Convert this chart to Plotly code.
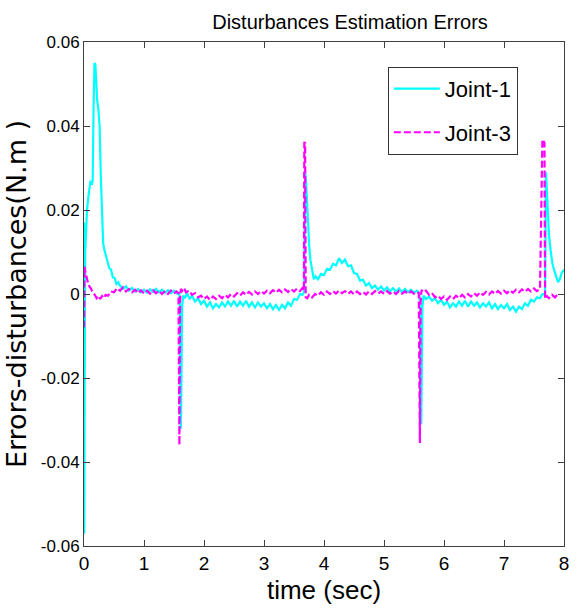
import plotly.graph_objects as go

# ---------------- data ----------------
t_joint1 = [0.0, 0.004, 0.010, 0.020, 0.050, 0.080, 0.110, 0.130, 0.145, 0.160, 0.175, 0.190,
            0.205, 0.220, 0.240, 0.260, 0.280, 0.300, 0.320, 0.340, 0.360, 0.390, 0.420, 0.450,
            0.480, 0.510, 0.540, 0.570, 0.60, 0.65, 0.70, 0.75, 0.80, 0.85, 0.90, 0.95, 1.00,
            1.05, 1.10, 1.15, 1.20, 1.25, 1.30, 1.35, 1.40, 1.45, 1.50, 1.55, 1.590, 1.602, 1.615,
            1.625, 1.635, 1.655, 1.68, 1.72, 1.76, 1.80, 1.85, 1.90, 1.95, 2.00, 2.05, 2.10, 2.15, 2.20,
            2.25, 2.30, 2.35, 2.40, 2.45, 2.50, 2.55, 2.60, 2.65, 2.70, 2.75, 2.80, 2.85, 2.90,
            2.95, 3.00, 3.05, 3.10, 3.15, 3.20, 3.25, 3.30, 3.35, 3.40, 3.45, 3.50, 3.55, 3.60,
            3.64, 3.670, 3.685, 3.700, 3.715, 3.735, 3.755, 3.775, 3.80, 3.83, 3.86, 3.90, 3.95, 4.00,
            4.05, 4.10, 4.15, 4.20, 4.25, 4.30, 4.35, 4.40, 4.45, 4.50, 4.55, 4.60, 4.65, 4.70,
            4.75, 4.80, 4.85, 4.90, 4.95, 5.00, 5.05, 5.10, 5.15, 5.20, 5.25, 5.30, 5.35, 5.40,
            5.45, 5.50, 5.55, 5.590, 5.606, 5.620, 5.630, 5.640, 5.66, 5.70, 5.75, 5.80, 5.85,
            5.90, 5.95, 6.00, 6.05, 6.10, 6.15, 6.20, 6.25, 6.30, 6.35, 6.40, 6.45, 6.50, 6.55,
            6.60, 6.65, 6.70, 6.75, 6.80, 6.85, 6.90, 6.95, 7.00, 7.05, 7.10, 7.15, 7.20, 7.25,
            7.30, 7.35, 7.40, 7.45, 7.50, 7.55, 7.60, 7.64, 7.685, 7.700, 7.712, 7.73, 7.75,
            7.78, 7.81, 7.84, 7.87, 7.90, 7.93, 7.96, 8.00]
v_joint1 = [0.0170, -0.0570, -0.0250, 0.0100, 0.0200, 0.0240, 0.0270, 0.0260, 0.0270, 0.0450,
            0.0550, 0.0545, 0.0500, 0.0460, 0.0440, 0.0400, 0.0280, 0.0180, 0.0120, 0.0105,
            0.0095, 0.0080, 0.0062, 0.0058, 0.0040, 0.0038, 0.0024, 0.0028, 0.0020, 0.0012,
            0.0018, 0.0008, 0.0014, 0.0006, 0.0012, 0.0004, 0.0010, 0.0003, 0.0011, 0.0005,
            0.0012, 0.0004, 0.0010, 0.0003, 0.0009, 0.0002, 0.0008, 0.0001, 0.0003, -0.0040,
            -0.0320, -0.0180, -0.0030, -0.0004, -0.0010, 0.0002, -0.0012, -0.0004, -0.0018,
            -0.0010, -0.0024, -0.0016, -0.0030, -0.0020, -0.0034, -0.0024, -0.0032, -0.0020,
            -0.0030, -0.0018, -0.0028, -0.0016, -0.0030, -0.0018, -0.0028, -0.0016, -0.0030,
            -0.0020, -0.0032, -0.0020, -0.0030, -0.0022, -0.0034, -0.0024, -0.0036, -0.0026,
            -0.0038, -0.0026, -0.0034, -0.0020, -0.0028, -0.0012, -0.0014, 0.0000, -0.0002,
            0.0005, 0.0290, 0.0270, 0.0220, 0.0160, 0.0110, 0.0080, 0.0055, 0.0035, 0.0042,
            0.0035, 0.0048, 0.0045, 0.0060, 0.0058, 0.0072, 0.0068, 0.0085, 0.0074, 0.0082,
            0.0066, 0.0068, 0.0050, 0.0048, 0.0032, 0.0034, 0.0020, 0.0026, 0.0014, 0.0020,
            0.0010, 0.0018, 0.0008, 0.0016, 0.0006, 0.0014, 0.0005, 0.0013, 0.0004, 0.0012,
            0.0004, 0.0010, 0.0003, 0.0008, 0.0002, -0.0040, -0.0310, -0.0170, -0.0030,
            -0.0004, -0.0012, -0.0006, -0.0016, -0.0010, -0.0022, -0.0014, -0.0026, -0.0018,
            -0.0032, -0.0022, -0.0030, -0.0018, -0.0028, -0.0016, -0.0030, -0.0018, -0.0028,
            -0.0020, -0.0032, -0.0022, -0.0030, -0.0020, -0.0034, -0.0024, -0.0036, -0.0026,
            -0.0034, -0.0024, -0.0038, -0.0030, -0.0042, -0.0030, -0.0036, -0.0022, -0.0028,
            -0.0014, -0.0018, -0.0008, -0.0010, 0.0000, -0.0002, 0.0290, 0.0250, 0.0190,
            0.0140, 0.0100, 0.0070, 0.0055, 0.0040, 0.0028, 0.0035, 0.0050, 0.0058]

t_joint3 = [0.0, 0.008, 0.02, 0.04, 0.06, 0.09, 0.12, 0.15, 0.18, 0.21, 0.24, 0.27, 0.30, 0.33,
            0.36, 0.40, 0.45, 0.50, 0.55, 0.60, 0.65, 0.70, 0.75, 0.80, 0.85, 0.90, 0.95, 1.00,
            1.05, 1.10, 1.15, 1.20, 1.25, 1.30, 1.35, 1.40, 1.45, 1.50, 1.54, 1.575, 1.590,
            1.600, 1.615, 1.64, 1.67, 1.70, 1.75, 1.80, 1.85, 1.90, 1.95, 2.00, 2.05, 2.10, 2.15,
            2.20, 2.25, 2.30, 2.35, 2.40, 2.45, 2.50, 2.55, 2.60, 2.65, 2.70, 2.75, 2.80, 2.85,
            2.90, 2.95, 3.00, 3.05, 3.10, 3.15, 3.20, 3.25, 3.30, 3.35, 3.40, 3.45, 3.50, 3.55,
            3.60, 3.64, 3.665, 3.672, 3.685, 3.695, 3.72, 3.75, 3.80, 3.85, 3.90, 3.95, 4.00,
            4.05, 4.10, 4.15, 4.20, 4.25, 4.30, 4.35, 4.40, 4.45, 4.50, 4.55, 4.60, 4.65, 4.70,
            4.75, 4.80, 4.85, 4.90, 4.95, 5.00, 5.05, 5.10, 5.15, 5.20, 5.25, 5.30, 5.35, 5.40,
            5.45, 5.50, 5.55, 5.58, 5.598, 5.610, 5.625, 5.65, 5.70, 5.75, 5.80, 5.85, 5.90, 5.95,
            6.00, 6.05, 6.10, 6.15, 6.20, 6.25, 6.30, 6.35, 6.40, 6.45, 6.50, 6.55, 6.60, 6.65,
            6.70, 6.75, 6.80, 6.85, 6.90, 6.95, 7.00, 7.05, 7.10, 7.15, 7.20, 7.25, 7.30, 7.35,
            7.40, 7.45, 7.50, 7.55, 7.60, 7.64, 7.675, 7.685, 7.698, 7.71, 7.75, 7.80, 7.85,
            7.90, 7.95, 8.00]
v_joint3 = [-0.0080, 0.0065, 0.0055, 0.0040, 0.0030, 0.0018, 0.0012, 0.0002, -0.0002, -0.0010,
            -0.0004, -0.0012, -0.0005, -0.0010, -0.0002, -0.0004, 0.0006, 0.0004, 0.0014,
            0.0008, 0.0016, 0.0006, 0.0012, 0.0004, 0.0010, 0.0002, 0.0009, 0.0001, 0.0008,
            0.0001, 0.0009, 0.0002, 0.0008, 0.0000, 0.0007, 0.0000, 0.0008, 0.0001, 0.0006,
            0.0002, -0.0360, -0.0020, 0.0012, 0.0008, 0.0014, 0.0004, 0.0008, -0.0002, 0.0002,
            -0.0008, -0.0004, -0.0012, -0.0006, -0.0014, -0.0006, -0.0012, -0.0004, -0.0010,
            -0.0002, -0.0008, 0.0000, -0.0006, 0.0002, -0.0004, 0.0004, -0.0002, 0.0005,
            -0.0001, 0.0006, 0.0000, 0.0007, 0.0001, 0.0008, 0.0002, 0.0009, 0.0003, 0.0010,
            0.0004, 0.0011, 0.0005, 0.0012, 0.0006, 0.0013, 0.0007, 0.0014, 0.0008, 0.0360,
            0.0360, -0.0008, -0.0010, -0.0002, -0.0008, 0.0000, -0.0004, 0.0004, -0.0002,
            0.0006, 0.0000, 0.0007, 0.0001, 0.0008, 0.0002, 0.0007, 0.0000, 0.0006, -0.0001,
            0.0006, 0.0000, 0.0005, -0.0001, 0.0006, 0.0000, 0.0007, 0.0001, 0.0006, 0.0000,
            0.0007, 0.0001, 0.0006, 0.0000, 0.0007, 0.0001, 0.0006, 0.0000, 0.0006, 0.0001,
            0.0005, 0.0002, -0.0355, -0.0020, 0.0010, 0.0004, 0.0008, -0.0002, 0.0002, -0.0008,
            -0.0004, -0.0012, -0.0006, -0.0014, -0.0006, -0.0012, -0.0004, -0.0010, -0.0002,
            -0.0008, 0.0000, -0.0006, 0.0002, -0.0004, 0.0004, -0.0002, 0.0005, -0.0001,
            0.0006, 0.0000, 0.0007, 0.0001, 0.0008, 0.0002, 0.0009, 0.0003, 0.0010, 0.0004,
            0.0011, 0.0005, 0.0012, 0.0006, 0.0013, 0.0007, 0.0012, 0.0368, 0.0360, -0.0008,
            -0.0012, -0.0004, -0.0010, -0.0002, -0.0008, 0.0000]

x_ticks = [0, 1, 2, 3, 4, 5, 6, 7, 8]
y_ticks = [-0.06, -0.04, -0.02, 0, 0.02, 0.04, 0.06]
y_tick_labels = ["-0.06", "-0.04", "-0.02", "0", "0.02", "0.04", "0.06"]

NARROW = "Liberation Sans Narrow, Arial Narrow, Liberation Sans, Arial, sans-serif"
AXIS_COLOR = "#404040"

fig = go.Figure()
fig.add_trace(go.Scatter(
    x=t_joint1, y=v_joint1, mode="lines", name="Joint-1", legendgroup="j1",
    line=dict(color="#00FFFF", width=2.2)))
fig.add_trace(go.Scatter(
    x=t_joint3, y=v_joint3, mode="lines", name="Joint-3", legendgroup="j3",
    line=dict(color="#FF00FF", width=2.2, dash="7px,3px")))

fig.update_layout(
    width=581, height=612,
    margin=dict(l=84, r=12, t=42, b=63),
    paper_bgcolor="white", plot_bgcolor="white",
    title=dict(text="Disturbances Estimation Errors", x=322 / 581, xref="paper",
               xanchor="center", y=1 - 22 / 612, yanchor="middle",
               font=dict(family=NARROW, size=20, color="black")),
    showlegend=True,
    legend=dict(x=(391 - 84) / 485, y=(549 - 67) / 507, xanchor="left", yanchor="top",
                bordercolor="#333333", borderwidth=1, bgcolor="white",
                font=dict(family=NARROW, size=22, color="black"),
                itemwidth=46, traceorder="grouped", tracegroupgap=12),
)
fig.update_xaxes(
    range=[0, 8], tickvals=x_ticks, ticks="inside", ticklen=6, tickcolor=AXIS_COLOR,
    showline=True, linecolor=AXIS_COLOR, linewidth=1, mirror="ticks", showgrid=False,
    zeroline=False, tickfont=dict(family=NARROW, size=19, color="black"),
    title=dict(text="time (sec)", font=dict(family=NARROW, size=26, color="black"),
               standoff=8),
)
fig.update_yaxes(
    range=[-0.06, 0.06], tickvals=y_ticks, ticktext=y_tick_labels, ticks="inside",
    ticklen=6, tickcolor=AXIS_COLOR, showline=True, linecolor=AXIS_COLOR, linewidth=1,
    mirror="ticks", showgrid=False, zeroline=False,
    tickfont=dict(family=NARROW, size=17, color="black"),
    title=dict(text="Errors-disturbances(N.m )",
               font=dict(family="DejaVu Sans", size=27, color="black"), standoff=6),
)

fig.write_html("out.html")
